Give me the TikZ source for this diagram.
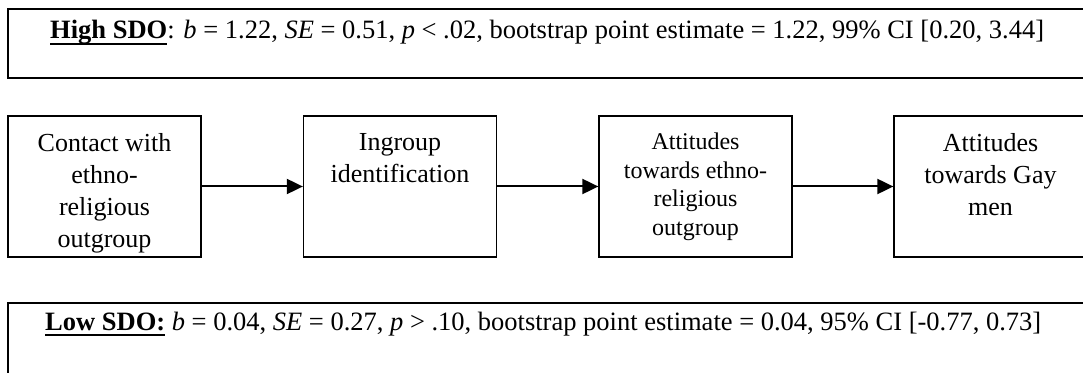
\documentclass[tikz,border=0pt]{standalone}
\usepackage{fontspec}
\setmainfont{Liberation Serif}
\usetikzlibrary{arrows.meta}
\newcommand{\stagetext}[3]{\parbox[c][141pt][t]{193pt}{\centering\fontsize{#1}{#2}\selectfont\vspace*{17pt}#3}}
\newcommand{\sdolabel}[1]{\setbox0\hbox{\bfseries #1}\rlap{\rule[-6pt]{\wd0}{2.2pt}}\box0\relax}
\begin{document}
\begin{tikzpicture}[x=1pt,y=1pt,
        stage/.style={draw,line width=1.3pt,inner sep=0pt,minimum width=193pt,minimum height=141pt},
        link/.style={line width=2pt,-{Triangle[length=16pt,width=15pt]}},
        panel/.style={draw,line width=2pt},
        stat/.style={anchor=base west,inner sep=0pt,font=\fontsize{26.5}{30}\selectfont}]
        \useasboundingbox (0,0) rectangle (1083,372);
        \clip (0,0) rectangle (1083,372);
        % moderator panels
        \draw[panel] (8,363) rectangle (1100,294);
        \draw[panel] (8,69) rectangle (1100,-10);
        \node[stat] (high) at (50,333) {\sdolabel{High SDO}: \textit{b} = 1.22, \textit{SE} = 0.51, \textit{p} < .02, bootstrap point estimate = 1.22, 99\% CI [0.20, 3.44]};
        \node[stat] (low) at (45,42) {\sdolabel{Low SDO:} \textit{b} = 0.04, \textit{SE} = 0.27, \textit{p} > .10, bootstrap point estimate = 0.04, 95\% CI [-0.77, 0.73]};
        % path model
        \node[stage] (contact) at (104.5,185.5) {\stagetext{26}{32}{Contact with\\ethno-\\religious\\outgroup}};
        \node[stage] (ingroup) at (400,185.5) {\stagetext{26}{32}{Ingroup\\identification}};
        \node[stage] (ethno) at (695.5,185.5) {\stagetext{24}{28.5}{Attitudes\\towards ethno-\\religious\\outgroup}};
        \node[stage] (gay) at (990.5,185.5) {\stagetext{26}{32}{Attitudes\\towards Gay\\men}};
        \foreach \a/\b in {contact/ingroup,ingroup/ethno,ethno/gay}
        \draw[link] (\a.east) -- (\b.west);
\end{tikzpicture}
\end{document}
